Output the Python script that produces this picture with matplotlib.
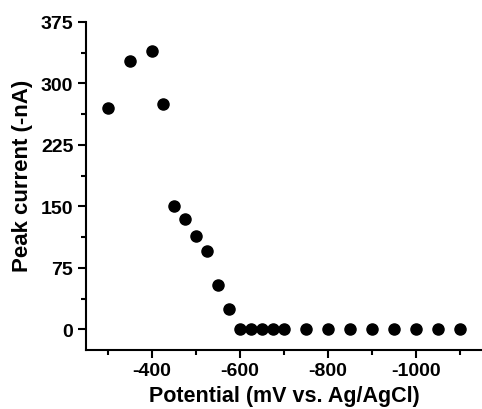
from matplotlib import pyplot as plt
from matplotlib.ticker import MultipleLocator

plt.rcParams['font.family'] = ['Liberation Sans', 'DejaVu Sans']
plt.rcParams['font.weight'] = 'bold'
plt.rcParams['axes.unicode_minus'] = False

# Data
potential = [-300, -350, -400, -425, -450, -475, -500, -525, -550, -575,
             -600, -625, -650, -675, -700, -750, -800, -850, -900, -950,
             -1000, -1050, -1100]
current = [270, 328, 340, 275, 151, 135, 114, 96, 54, 25,
           0, 0, 0, 0, 0, 0, 0, 0, 0, 0,
           0, 0, 0]

fig = plt.figure(figsize=(4.82, 4.10), dpi=100)
ax = fig.add_axes([0.178, 0.144, 0.822, 0.80])

ax.plot(potential, current, 'o', color='black', markersize=8)

ax.set_xlim(-250, -1150)
ax.set_ylim(-25, 375)
ax.xaxis.set_major_locator(MultipleLocator(200))
ax.xaxis.set_minor_locator(MultipleLocator(100))
ax.yaxis.set_major_locator(MultipleLocator(75))
ax.yaxis.set_minor_locator(MultipleLocator(37.5))

ax.spines['top'].set_visible(False)
ax.spines['right'].set_visible(False)
ax.spines['left'].set_linewidth(1.5)
ax.spines['bottom'].set_linewidth(1.5)

ax.tick_params(which='major', length=6, width=1.5, labelsize=14, direction='out', pad=3)
ax.tick_params(which='minor', length=3.5, width=1.5, direction='out')

ax.set_xlabel("Potential (mV vs. Ag/AgCl)", fontsize=15.5, fontweight='bold', labelpad=4)
ax.set_ylabel("Peak current (-nA)", fontsize=16, fontweight='bold')
ax.yaxis.set_label_coords(-0.134, 0.535)

fig.savefig("out.png", dpi=100)
